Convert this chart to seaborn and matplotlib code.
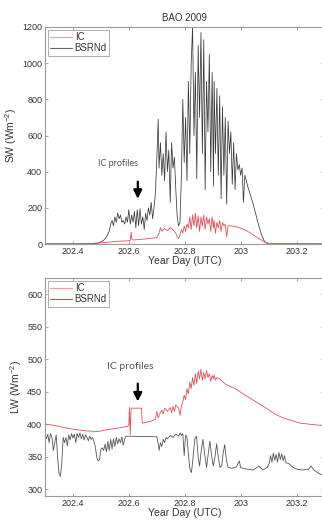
import numpy as np
import pandas as pd
import matplotlib
matplotlib.use("Agg")
import matplotlib.pyplot as plt
from matplotlib.lines import Line2D
import seaborn as sns

# ---------------- data ----------------
sw_bsrn_day = [202.28, 202.41, 202.47, 202.49, 202.51, 202.52, 202.53, 202.535, 202.54, 202.545,
               202.55, 202.555, 202.56, 202.565, 202.57, 202.575, 202.58, 202.585, 202.59, 202.595,
               202.60, 202.605, 202.61, 202.615, 202.62, 202.625, 202.63, 202.635, 202.64, 202.645,
               202.65, 202.655, 202.66, 202.665, 202.67, 202.675, 202.68, 202.685, 202.69, 202.695,
               202.70, 202.705, 202.708, 202.713, 202.718, 202.723, 202.728, 202.733, 202.738, 202.743,
               202.748, 202.753, 202.758, 202.763, 202.768, 202.773, 202.778, 202.783, 202.788, 202.793,
               202.798, 202.803, 202.808, 202.813, 202.818, 202.823, 202.828, 202.833, 202.838, 202.843,
               202.848, 202.853, 202.858, 202.863, 202.868, 202.873, 202.878, 202.883, 202.888, 202.893,
               202.898, 202.903, 202.905, 202.91, 202.915, 202.92, 202.925, 202.93, 202.935, 202.94,
               202.945, 202.95, 202.955, 202.96, 202.965, 202.97, 202.975, 202.98, 202.985, 202.99,
               202.995, 203.00, 203.005, 203.01, 203.015, 203.025, 203.035, 203.045, 203.055, 203.065,
               203.075, 203.085, 203.095, 203.102, 203.30]
sw_bsrn = [0, 0, 2, 5, 20, 40, 70, 110, 130, 100,
           150, 120, 170, 140, 160, 120, 130, 110, 150, 120,
           190, 110, 160, 120, 180, 90, 190, 100, 195, 110,
           150, 80, 170, 130, 200, 160, 230, 140, 200, 280,
           470, 690, 420, 560, 380, 500, 350, 620, 400, 520,
           230, 560, 420, 480, 300, 150, 100, 120, 380, 800,
           450, 700, 350, 900, 500, 1000, 1200, 600, 950, 360,
           1100, 700, 1170, 500, 1130, 300, 900, 620, 1050, 400,
           950, 320, 900, 500, 860, 380, 820, 250, 760, 380,
           700, 220, 680, 500, 620, 330, 560, 300, 500, 410,
           440, 380, 420, 230, 380, 320, 270, 220, 160, 100,
           50, 15, 3, 0, 0]

sw_ic_day = [202.28, 202.46, 202.51, 202.56, 202.60, 202.605, 202.608, 202.61, 202.615, 202.66,
             202.70, 202.708, 202.713, 202.718, 202.728, 202.738, 202.748, 202.758, 202.768, 202.773,
             202.778, 202.783, 202.788, 202.793, 202.798, 202.803, 202.808, 202.813, 202.818, 202.823,
             202.828, 202.833, 202.838, 202.843, 202.848, 202.853, 202.858, 202.863, 202.868, 202.873,
             202.878, 202.883, 202.888, 202.893, 202.898, 202.903, 202.905, 202.91, 202.915, 202.92,
             202.925, 202.93, 202.935, 202.94, 202.945, 202.95, 202.955, 202.965, 202.985, 203.005,
             203.025, 203.045, 203.065, 203.085, 203.102, 203.30]
sw_ic = [2, 2, 8, 15, 18, 20, 65, 30, 22, 28,
         35, 60, 90, 70, 85, 75, 90, 80, 60, 40,
         30, 50, 80, 60, 100, 70, 110, 90, 150, 80,
         160, 100, 170, 90, 155, 70, 150, 100, 160, 80,
         150, 110, 140, 70, 150, 90, 130, 60, 120, 90,
         130, 70, 120, 100, 110, 40, 100, 100, 95, 85,
         70, 50, 30, 12, 3, 1]

lw_ic_day = [202.28, 202.31, 202.34, 202.37, 202.41, 202.45, 202.49, 202.51, 202.54, 202.57,
             202.595, 202.60, 202.602, 202.605, 202.608, 202.61, 202.63, 202.645, 202.648, 202.66,
             202.68, 202.695, 202.70, 202.705, 202.708, 202.718, 202.723, 202.728, 202.738, 202.748,
             202.753, 202.758, 202.763, 202.768, 202.778, 202.783, 202.788, 202.793, 202.798, 202.803,
             202.808, 202.813, 202.818, 202.823, 202.828, 202.833, 202.838, 202.843, 202.848, 202.853,
             202.858, 202.863, 202.868, 202.873, 202.878, 202.883, 202.888, 202.893, 202.898, 202.903,
             202.905, 202.91, 202.915, 202.925, 202.935, 202.945, 202.965, 202.985, 203.005, 203.035,
             203.065, 203.095, 203.122, 203.152, 203.182, 203.212, 203.252, 203.30]
lw_ic = [402, 400, 398, 395, 392, 390, 389, 391, 393, 395,
         397, 399, 426, 384, 424, 425, 425, 425, 402, 403,
         405, 408, 420, 410, 414, 422, 416, 425, 420, 426,
         418, 428, 420, 430, 425, 414, 428, 435, 445, 438,
         455, 447, 465, 455, 472, 460, 478, 463, 482, 470,
         485, 468, 480, 470, 483, 472, 478, 466, 475, 470,
         476, 468, 472, 470, 466, 462, 458, 454, 448, 440,
         432, 424, 416, 410, 406, 402, 400, 398]

lw_bsrn_day = [202.29, 202.295, 202.30, 202.305, 202.31, 202.315, 202.32, 202.325, 202.33, 202.335,
               202.34, 202.345, 202.35, 202.355, 202.36, 202.365, 202.37, 202.375, 202.38, 202.385,
               202.39, 202.395, 202.40, 202.405, 202.41, 202.415, 202.42, 202.425, 202.43, 202.435,
               202.44, 202.445, 202.45, 202.455, 202.46, 202.465, 202.47, 202.475, 202.48, 202.485,
               202.49, 202.495, 202.50, 202.505, 202.51, 202.515, 202.52, 202.525, 202.53, 202.535,
               202.54, 202.545, 202.55, 202.555, 202.56, 202.565, 202.57, 202.575, 202.58, 202.585,
               202.59, 202.70, 202.705, 202.708, 202.713, 202.718, 202.723, 202.728, 202.733, 202.738,
               202.748, 202.758, 202.768, 202.778, 202.783, 202.788, 202.793, 202.798, 202.803, 202.808,
               202.813, 202.818, 202.824, 202.830, 202.836, 202.842, 202.848, 202.853, 202.859, 202.865,
               202.871, 202.878, 202.884, 202.890, 202.896, 202.902, 202.908, 202.914, 202.920, 202.926,
               202.932, 202.937, 202.943, 202.949, 202.955, 202.962, 202.975, 202.985, 202.995, 203.00,
               203.005, 203.025, 203.045, 203.065, 203.08, 203.095, 203.102, 203.107, 203.112, 203.117,
               203.122, 203.127, 203.132, 203.137, 203.142, 203.147, 203.152, 203.157, 203.162, 203.172,
               203.182, 203.192, 203.202, 203.222, 203.242, 203.252, 203.262, 203.282, 203.30]
lw_bsrn = [385, 380, 387, 378, 385, 372, 386, 380, 360, 372,
           384, 350, 325, 320, 340, 380, 372, 380, 367, 384,
           376, 386, 379, 385, 372, 386, 380, 387, 378, 385,
           376, 384, 380, 375, 382, 377, 380, 374, 366, 350,
           344, 346, 362, 364, 360, 370, 358, 374, 360, 377,
           362, 378, 366, 380, 370, 378, 372, 381, 368, 378,
           382, 381, 370, 360, 372, 366, 377, 372, 380, 378,
           383, 380, 385, 382, 387, 383, 386, 352, 384, 380,
           355, 332, 326, 350, 378, 382, 350, 336, 360, 377,
           355, 334, 355, 374, 352, 336, 350, 370, 350, 334,
           336, 355, 369, 345, 334, 333, 333, 335, 344, 334,
           333, 331, 330, 336, 330, 334, 340, 352, 342, 356,
           345, 354, 342, 357, 346, 355, 344, 352, 341, 340,
           336, 333, 331, 330, 331, 336, 330, 324, 322]

x_ticks = [202.4, 202.6, 202.8, 203.0, 203.2]
x_tick_labels = ["202.4", "202.6", "202.8", "203", "203.2"]
sw_ticks = [0, 200, 400, 600, 800, 1000, 1200]
lw_ticks = [300, 350, 400, 450, 500, 550, 600]
arrow_day = 202.632

# ---------------- style ----------------
sns.set_style("ticks")
plt.rcParams['font.family'] = ['Liberation Sans', 'DejaVu Sans']
plt.rcParams['mathtext.fontset'] = 'custom'
plt.rcParams['mathtext.rm'] = 'Liberation Sans'
plt.rcParams['mathtext.it'] = 'Liberation Sans:italic'

RED = "#e0505a"
PINK = "#ef9aa2"
DARK = "#3a3a3a"
SPINE = "#9a9a9a"
TXT = "#333333"

fig = plt.figure(figsize=(3.22, 5.23), dpi=100)
ax1 = fig.add_axes([45 / 322, (523 - 244) / 523, (324.5 - 45) / 322, (244 - 27) / 523])
ax2 = fig.add_axes([45 / 322, (523 - 496) / 523, (324.5 - 45) / 322, (496 - 278) / 523])

df_sw_ic = pd.DataFrame({"day": sw_ic_day, "val": sw_ic})
df_sw_bs = pd.DataFrame({"day": sw_bsrn_day, "val": sw_bsrn})
df_lw_ic = pd.DataFrame({"day": lw_ic_day, "val": lw_ic})
df_lw_bs = pd.DataFrame({"day": lw_bsrn_day, "val": lw_bsrn})

sns.lineplot(data=df_sw_bs, x="day", y="val", ax=ax1, color=DARK, lw=0.55, estimator=None, sort=False)
sns.lineplot(data=df_sw_ic, x="day", y="val", ax=ax1, color=RED, lw=0.6, estimator=None, sort=False)
sns.lineplot(data=df_lw_bs, x="day", y="val", ax=ax2, color="#555555", lw=0.6, estimator=None, sort=False)
sns.lineplot(data=df_lw_ic, x="day", y="val", ax=ax2, color=RED, lw=0.6, estimator=None, sort=False)

for ax, yt, ylim in [(ax1, sw_ticks, (0, 1200)), (ax2, lw_ticks, (290, 625))]:
    ax.set_xlim(202.3, 203.3)
    ax.set_ylim(*ylim)
    ax.set_xticks(x_ticks)
    ax.set_xticklabels(x_tick_labels)
    ax.set_yticks(yt)
    ax.set_yticklabels([str(v) for v in yt])
    ax.tick_params(direction="in", length=2.5, width=0.6, color=SPINE, labelsize=6.5,
                   labelcolor=TXT, top=True, right=True, pad=2)
    for s in ax.spines.values():
        s.set_color(SPINE)
        s.set_linewidth(0.8)
    ax.set_xlabel("Year Day (UTC)", fontsize=7.5, color=TXT, labelpad=0)

ax1.set_ylabel(r"SW (Wm$^{-2}$)", fontsize=7.5, color=TXT, labelpad=2)
ax2.set_ylabel(r"LW (Wm$^{-2}$)", fontsize=7.5, color=TXT, labelpad=2)
ax1.set_title("BAO 2009", fontsize=7, color=TXT, pad=4)

# legends
h1 = [Line2D([], [], color=PINK, lw=0.8), Line2D([], [], color="#666666", lw=0.8)]
h2 = [Line2D([], [], color=PINK, lw=0.8), Line2D([], [], color="#c84a55", lw=0.8)]
for ax, h in [(ax1, h1), (ax2, h2)]:
    leg = ax.legend(h, ["IC", "BSRNd"], loc="upper left", fontsize=7, frameon=True, fancybox=False,
                    handlelength=2.2, handletextpad=0.3, borderpad=0.25, labelspacing=0.1,
                    borderaxespad=0.3)
    leg.get_frame().set_edgecolor(SPINE)
    leg.get_frame().set_linewidth(0.7)
    for t in leg.get_texts():
        t.set_color(TXT)

# annotations
ax1.annotate("", xy=(arrow_day, 235), xytext=(arrow_day, 360),
             arrowprops=dict(arrowstyle="-|>,head_length=0.5,head_width=0.25", color="black", lw=1.6))
ax1.text(202.56, 445, "IC profiles", fontsize=6.5, color="#555555", ha="center", va="center",
         family=["Lato", "DejaVu Sans"])
ax2.annotate("", xy=(arrow_day, 431), xytext=(arrow_day, 467),
             arrowprops=dict(arrowstyle="-|>,head_length=0.5,head_width=0.25", color="black", lw=1.6))
ax2.text(202.605, 489, "IC profiles", fontsize=7.5, color="#555555", ha="center", va="center",
         family=["Lato", "DejaVu Sans"])

fig.savefig("out.png", dpi=100)
